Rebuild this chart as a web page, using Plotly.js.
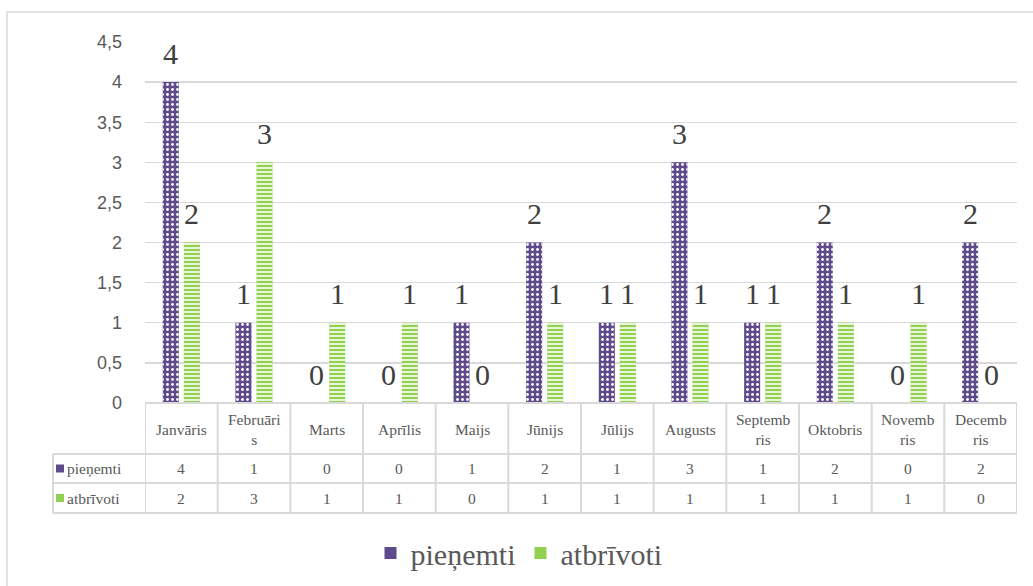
<!DOCTYPE html>
<html>
<head>
<meta charset="utf-8">
<script src="https://cdn.plot.ly/plotly-3.0.1.min.js"></script>
<style>
html,body{margin:0;padding:0;background:#fff;}
#chart{width:1033px;height:586px;}
</style>
</head>
<body>
<div id="chart"></div>
<script>
// ---- data ----
const months = ["Janvāris","Februāris","Marts","Aprīlis","Maijs","Jūnijs","Jūlijs","Augusts","Septembris","Oktobris","Novembris","Decembris"];
const headerLabels = ["Janvāris","Februāri<br>s","Marts","Aprīlis","Maijs","Jūnijs","Jūlijs","Augusts","Septemb<br>ris","Oktobris","Novemb<br>ris","Decemb<br>ris"];
const seriesNames = ["pieņemti","atbrīvoti"];
const pienemti = [4,1,0,0,1,2,1,3,1,2,0,2];
const atbrivoti = [2,3,1,1,0,1,1,1,1,1,1,0];
const yTicks = [0,0.5,1,1.5,2,2.5,3,3.5,4,4.5];

// ---- layout constants ----
const W = 1033, H = 586;
const L = 145, R = 16, T = 42, B = 183;
const plotH = H - T - B;
const py = px => (H - B - px) / plotH;
const px2x = px => (px - L) / (W - L - R);
const gridCol = "#d9d9d9";
const textCol = "#595959";
const serif = "Liberation Serif";
const sans = "Liberation Sans";

const colors = ["#5f4a8b", "#92d050"];
const patterns = [
  {shape: ".", fgcolor: "#ffffff", size: 5, solidity: 0.25},
  {shape: "-", fgcolor: "#ffffff", size: 4, solidity: 0.4}
];
const series = [pienemti, atbrivoti];
const traces = [];
// solid base bars (under the textured ones, same offset group) - also used for legend
series.forEach((vals, s) => {
  traces.push({
    type: "bar", name: seriesNames[s], x: months, y: vals, offsetgroup: "g" + s,
    marker: {color: colors[s], line: {width: 0}}, showlegend: true, hoverinfo: "none"
  });
});
series.forEach((vals, s) => {
  traces.push({
    type: "bar", name: seriesNames[s], x: months, y: vals, offsetgroup: "g" + s,
    marker: {color: colors[s], line: {width: 0}, pattern: patterns[s]},
    showlegend: false, hoverinfo: "none"
  });
});

const annotations = [];
const shapes = [];
const shift = [-10.5, 10.5];

series.forEach((vals, s) => {
  vals.forEach((v, i) => {
    annotations.push({
      x: months[i], y: v, xref: "x", yref: "y", text: String(v),
      showarrow: false, xshift: shift[s], yshift: 29,
      xanchor: "center", yanchor: "middle",
      font: {family: serif, size: 30, color: "#404040"}
    });
  });
});

const rowTop = [403, 454, 483];
const rowBot = [454, 483, 513];
headerLabels.forEach((lab, i) => {
  annotations.push({
    x: months[i], xref: "x", y: py((rowTop[0] + rowBot[0]) / 2 + 1), yref: "paper",
    text: lab, showarrow: false, xanchor: "center", yanchor: "middle",
    font: {family: serif, size: 15.5, color: textCol}
  });
});
series.forEach((vals, s) => {
  const cy = (rowTop[s + 1] + rowBot[s + 1]) / 2;
  vals.forEach((v, i) => {
    annotations.push({
      x: months[i], xref: "x", y: py(cy), yref: "paper",
      text: String(v), showarrow: false, xanchor: "center", yanchor: "middle",
      font: {family: serif, size: 15.5, color: textCol}
    });
  });
  annotations.push({
    x: px2x(65), xref: "paper", y: py(cy), yref: "paper",
    text: seriesNames[s], showarrow: false, xanchor: "left", yanchor: "middle",
    font: {family: serif, size: 15.5, color: textCol}
  });
  shapes.push({
    type: "rect", xref: "paper", yref: "paper",
    x0: px2x(56), x1: px2x(64), y0: py(cy - 4), y1: py(cy + 4),
    fillcolor: colors[s], line: {width: 0}
  });
});
const lineStyle = {color: gridCol, width: 2};
for (let i = 0; i <= months.length; i++) {
  shapes.push({type: "line", xref: "x", yref: "paper", x0: i - 0.5, x1: i - 0.5,
    y0: py(rowTop[0]), y1: py(rowBot[2]), line: lineStyle});
}
[rowBot[0], rowBot[1], rowBot[2]].forEach(yy => {
  shapes.push({type: "line", xref: "paper", yref: "paper",
    x0: px2x(53), x1: 1, y0: py(yy), y1: py(yy), line: lineStyle});
});
shapes.push({type: "line", xref: "paper", yref: "paper",
  x0: 0, x1: 1, y0: py(rowTop[0]), y1: py(rowTop[0]), line: lineStyle});
shapes.push({type: "line", xref: "paper", yref: "paper",
  x0: px2x(53), x1: px2x(53), y0: py(rowBot[0]), y1: py(rowBot[2]), line: lineStyle});
shapes.push({type: "rect", xref: "paper", yref: "paper",
  x0: px2x(7), x1: px2x(1060), y0: py(12), y1: py(620),
  line: {color: gridCol, width: 1.5}, fillcolor: "rgba(0,0,0,0)", layer: "below"});

const layout = {
  width: W, height: H,
  margin: {l: L, r: R, t: T, b: B, pad: 0, autoexpand: false},
  paper_bgcolor: "#ffffff", plot_bgcolor: "#ffffff",
  separators: ", ",
  barmode: "group", bargap: 0.42, bargroupgap: 0.24,
  showlegend: true,
  legend: {
    orientation: "h", x: px2x(519), xanchor: "center",
    y: py(553), yanchor: "middle",
    font: {family: serif, size: 30, color: textCol},
    itemclick: false, itemdoubleclick: false
  },
  xaxis: {
    type: "category", showticklabels: false, showgrid: false, zeroline: false,
    showline: false, ticks: "", range: [-0.5, 11.5], fixedrange: true, automargin: false
  },
  yaxis: {
    range: [0, 4.5], tickvals: yTicks, showgrid: true, gridcolor: gridCol, gridwidth: 1.3,
    zeroline: false, showline: false, ticks: "", ticklabelstandoff: 22, automargin: false,
    tickfont: {family: sans, size: 18, color: textCol}, fixedrange: true
  },
  annotations: annotations,
  shapes: shapes
};

Plotly.newPlot("chart", traces, layout, {displayModeBar: false, staticPlot: true}).then(gd => {
  // empty patternTransform attributes can invalidate the pattern; drop them
  gd.querySelectorAll("pattern").forEach(p => {
    if (!p.getAttribute("patternTransform")) p.removeAttribute("patternTransform");
  });
});
</script>
</body>
</html>
